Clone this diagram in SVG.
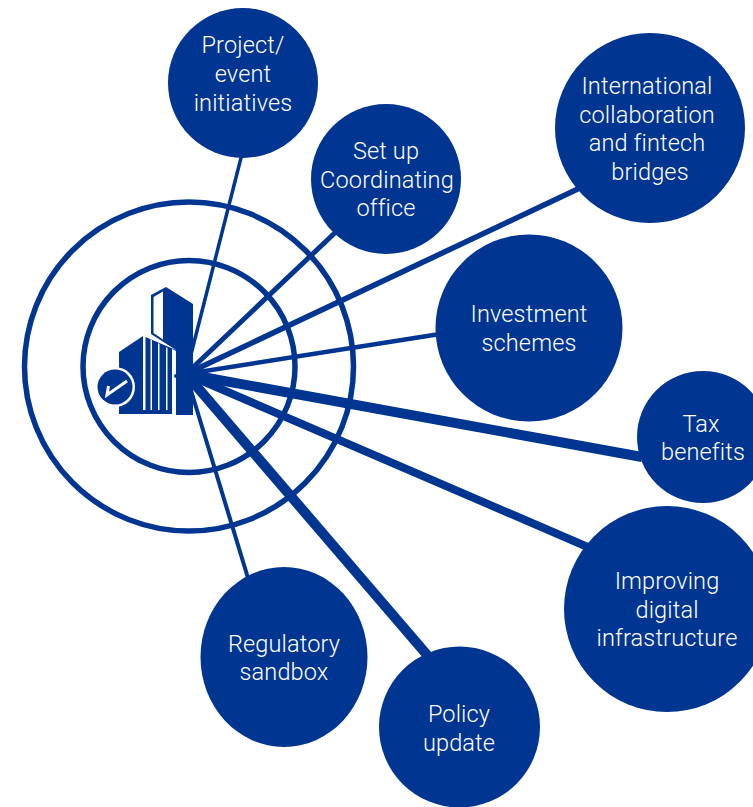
<svg xmlns="http://www.w3.org/2000/svg" width="753" height="807" viewBox="0 0 753 807">
<style>
.n{fill:#003591}
.t{font-family:"Roboto","Liberation Sans",Arial,sans-serif;font-weight:300;font-size:23.5px;fill:#fff;text-anchor:middle;letter-spacing:.15px}
.l{stroke:#003591;fill:none}
.r{stroke:#003591;fill:none;stroke-width:5.500}
.w{fill:#fff}
</style>
<rect width="753" height="807" fill="#fff"/>
<g id="rings"><circle class="r" cx="189" cy="366.500" r="164.500"/><circle class="r" cx="189" cy="366.500" r="106"/></g>
<g id="connectors">
<line class="l" stroke-width="3.500" x1="186" y1="374" x2="243" y2="150"/>
<line class="l" stroke-width="5" x1="186" y1="374" x2="340" y2="228"/>
<line class="l" stroke-width="5.500" x1="186" y1="374" x2="582" y2="187"/>
<line class="l" stroke-width="4.500" x1="186" y1="374" x2="440" y2="334"/>
<line class="l" stroke-width="10" x1="186" y1="374" x2="642" y2="457"/>
<line class="l" stroke-width="8" x1="186" y1="374" x2="590" y2="548"/>
<line class="l" stroke-width="10" x1="186" y1="374" x2="428" y2="656"/>
<line class="l" stroke-width="4" x1="186" y1="374" x2="248" y2="578"/>
</g>
<g id="building">
<path class="n" d="M151 295L166 287L193 304V415H176V350L151 334Z"/>
<path class="w" d="M153.500 297L163 291.500V339.500L153.500 333Z"/>
<path class="n" d="M119 352L143 336L176 350V414H119Z"/>
<path class="w" d="M143 336L145.500 336V410H143ZM150.500 339L152 340V410H150.500ZM158 343L159.500 344V410H158ZM166 347L167.500 348V410H166ZM172 349L176 351V414H172Z"/>
<circle class="w" cx="115" cy="387" r="20"/>
<circle class="n" cx="115" cy="387" r="17.500"/>
<path d="M108.500 386L107 395L127 381" stroke="#fff" stroke-width="3" fill="none"/>
<circle class="n" cx="176" cy="376" r="2"/>
</g>
<g id="project"><circle class="n" cx="243" cy="83" r="75"/><text class="t"><tspan x="243" y="53">Project/</tspan><tspan x="243" y="82">event</tspan><tspan x="243" y="111">initiatives</tspan></text></g>
<g id="office"><circle class="n" cx="386" cy="179" r="75"/><text class="t"><tspan x="386" y="159">Set up</tspan><tspan x="387" y="188">Coordinating</tspan><tspan x="386" y="216">office</tspan></text></g>
<g id="international"><circle class="n" cx="650" cy="128" r="95"/><text class="t"><tspan x="647" y="94">International</tspan><tspan x="647" y="123">collaboration</tspan><tspan x="647" y="151">and fintech</tspan><tspan x="650" y="180">bridges</tspan></text></g>
<g id="investment"><circle class="n" cx="529" cy="328" r="93.500"/><text class="t"><tspan x="529" y="322">Investment</tspan><tspan x="529" y="351">schemes</tspan></text></g>
<g id="tax"><circle class="n" cx="703" cy="437" r="66"/><text class="t"><tspan x="701" y="432">Tax</tspan><tspan x="703" y="460">benefits</tspan></text></g>
<g id="digital"><circle class="n" cx="667" cy="609" r="103"/><text class="t"><tspan x="667" y="589">Improving</tspan><tspan x="667" y="618">digital</tspan><tspan x="667" y="646">infrastructure</tspan></text></g>
<g id="policy"><circle class="n" cx="459.500" cy="727" r="80.500"/><text class="t"><tspan x="459" y="722">Policy</tspan><tspan x="459" y="751">update</tspan></text></g>
<g id="sandbox"><ellipse class="n" cx="284" cy="657" rx="83.500" ry="90"/><text class="t"><tspan x="284" y="652">Regulatory</tspan><tspan x="284" y="680">sandbox</tspan></text></g>
</svg>
